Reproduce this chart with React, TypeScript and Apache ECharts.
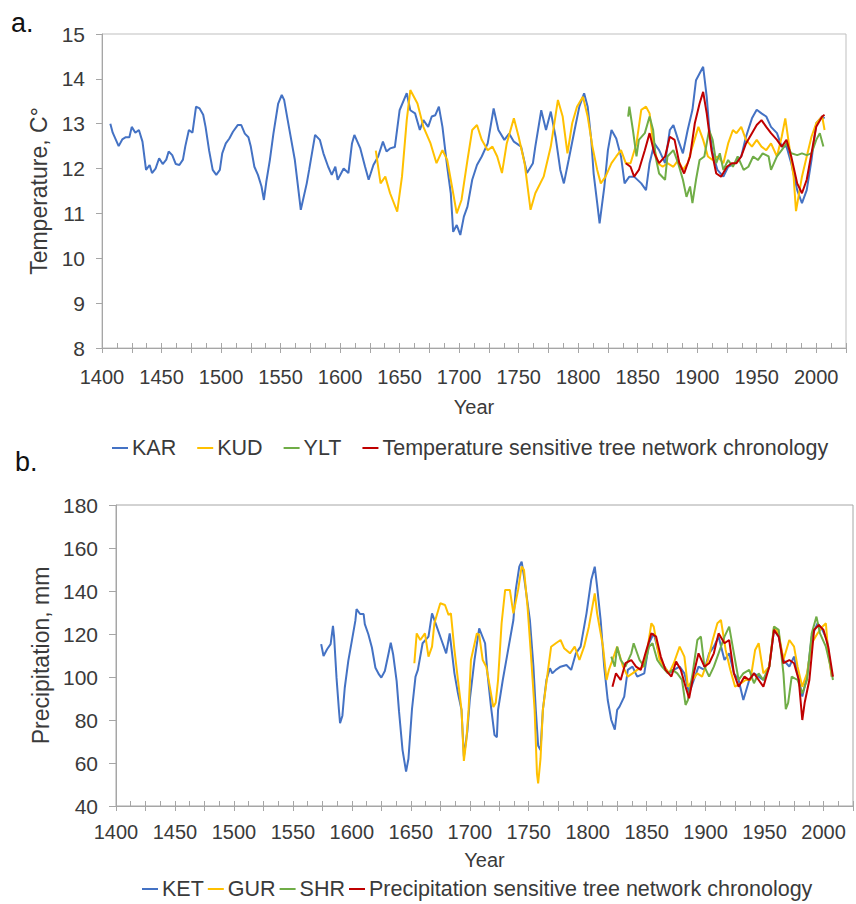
import React, { useEffect, useRef } from "react";
import * as echarts from "echarts";

// ---------- Panel a: temperature reconstructions ----------
const karYears = [1407,1409,1414,1417,1420,1423,1425,1428,1431,1434,1437,1440,1442,1445,1448,1451,1454,1456,1459,1462,1465,1468,1470,1473,1476,1479,1482,1485,1487,1490,1493,1496,1499,1501,1504,1507,1510,1514,1517,1520,1523,1525,1528,1531,1534,1536,1538,1541,1544,1548,1551,1553,1556,1562,1567,1572,1574,1579,1583,1586,1590,1593,1596,1598,1603,1607,1610,1612,1617,1621,1624,1628,1632,1636,1639,1642,1646,1650,1656,1659,1663,1667,1670,1674,1677,1680,1683,1686,1690,1693,1695,1698,1701,1704,1707,1711,1715,1719,1724,1729,1733,1738,1742,1746,1752,1757,1762,1764,1769,1773,1777,1781,1785,1788,1792,1797,1801,1805,1808,1811,1813,1816,1818,1822,1825,1828,1832,1836,1839,1843,1847,1853,1857,1860,1864,1868,1873,1877,1880,1884,1888,1892,1896,1899,1902,1905,1908,1910,1913,1917,1922,1926,1932,1937,1941,1946,1950,1954,1958,1962,1967,1971,1975,1979,1984,1988,1992,1996,2000,2005,2007];
const karValues = [13.0,12.8,12.5,12.65,12.7,12.7,12.93,12.8,12.86,12.6,11.97,12.08,11.9,12.0,12.23,12.1,12.2,12.38,12.3,12.1,12.08,12.2,12.5,12.86,12.8,13.38,13.34,13.2,12.93,12.4,11.97,11.86,11.97,12.34,12.56,12.67,12.82,12.97,12.97,12.78,12.7,12.49,12.04,11.86,11.6,11.3,11.7,12.19,12.78,13.45,13.64,13.53,13.08,12.19,11.08,11.67,11.97,12.75,12.64,12.34,12.04,11.86,12.04,11.75,12.0,11.9,12.56,12.75,12.45,12.04,11.75,12.08,12.27,12.6,12.38,12.45,12.48,13.3,13.68,13.3,13.23,12.86,13.08,12.93,13.16,13.19,13.38,12.93,12.04,11.45,10.59,10.74,10.52,10.93,11.15,11.75,12.08,12.27,12.56,13.34,12.86,12.64,12.78,12.6,12.49,11.9,12.12,12.49,13.3,12.86,13.27,12.71,11.97,11.67,12.19,12.86,13.38,13.68,13.38,12.64,11.89,11.23,10.78,11.6,12.41,12.86,12.67,12.27,11.67,11.82,11.82,11.67,11.52,12.12,12.56,12.41,12.12,12.86,12.97,12.64,12.34,12.86,13.31,13.97,14.12,14.27,13.6,12.93,12.34,11.97,11.82,12.04,12.12,12.27,12.71,13.12,13.31,13.23,13.16,12.93,12.79,12.49,12.49,12.12,11.52,11.23,11.52,12.19,13.01,13.16,13.12];

const kudYears = [1630,1634,1638,1642,1648,1652,1656,1659,1665,1670,1676,1681,1686,1690,1694,1698,1702,1707,1711,1715,1719,1724,1728,1732,1736,1740,1746,1750,1755,1760,1764,1771,1777,1783,1787,1791,1795,1799,1804,1808,1812,1816,1819,1823,1828,1832,1836,1840,1844,1849,1853,1857,1860,1863,1867,1871,1875,1880,1884,1888,1892,1896,1901,1905,1909,1913,1917,1922,1926,1930,1933,1937,1941,1946,1950,1954,1958,1962,1967,1971,1974,1977,1981,1983,1988,1992,1996,2000,2005,2007];
const kudValues = [12.4,11.67,11.82,11.45,11.04,11.82,13.08,13.75,13.45,12.93,12.56,12.12,12.41,12.19,11.6,11.0,11.3,12.19,12.86,12.97,12.64,12.41,12.49,12.27,11.9,12.56,13.12,12.71,12.12,11.08,11.45,11.82,12.49,13.53,13.16,12.34,13.01,13.38,13.6,13.16,12.49,11.97,11.67,11.82,12.12,12.27,12.41,12.12,12.12,12.56,13.31,13.38,13.23,12.56,12.12,12.04,12.12,12.04,12.19,11.97,12.12,12.49,12.93,12.64,12.27,12.19,12.27,12.12,12.56,12.86,12.79,12.93,12.64,12.49,12.64,12.49,12.41,12.56,12.27,12.71,13.12,12.56,11.82,11.05,11.82,12.27,12.71,13.01,13.16,12.86];

const yltYears = [1842,1843,1846,1849,1851,1856,1860,1863,1865,1868,1873,1875,1880,1884,1888,1891,1894,1896,1899,1902,1906,1910,1913,1916,1919,1922,1926,1930,1934,1939,1943,1947,1951,1955,1960,1962,1967,1971,1975,1979,1984,1988,1992,1996,2000,2003,2006];
const yltValues = [13.16,13.38,12.86,12.27,12.64,12.79,13.16,12.86,12.27,11.89,11.75,12.27,12.41,12.12,11.75,11.37,11.6,11.23,11.75,12.19,12.27,12.86,12.64,12.12,12.34,11.97,12.19,12.04,12.27,11.97,12.04,12.27,12.19,12.34,12.27,11.97,12.27,12.41,12.56,12.34,12.3,12.34,12.3,12.34,12.64,12.79,12.49];

const tempNetYears = [1840,1844,1847,1851,1856,1860,1864,1868,1873,1877,1881,1885,1889,1894,1898,1902,1905,1908,1912,1916,1920,1925,1929,1933,1937,1941,1946,1950,1954,1958,1962,1967,1971,1975,1979,1984,1988,1992,1996,2000,2005,2007];
const tempNetValues = [12.12,12.04,11.82,11.97,12.41,12.79,12.34,12.12,12.27,12.71,12.64,12.12,11.89,12.27,13.01,13.45,13.71,13.23,12.41,11.89,11.82,12.04,12.12,12.12,12.27,12.56,12.79,12.97,13.08,12.93,12.79,12.64,12.49,12.64,12.27,11.67,11.45,11.75,12.34,12.93,13.16,13.2];

// ---------- Panel b: precipitation reconstructions ----------
const ketYears = [1574,1576,1579,1582,1584,1585,1587,1589,1590,1592,1594,1597,1600,1603,1604,1607,1610,1611,1614,1617,1620,1623,1625,1628,1631,1633,1635,1638,1640,1643,1646,1648,1651,1654,1656,1660,1665,1668,1672,1676,1680,1683,1687,1690,1693,1695,1698,1700,1704,1708,1713,1715,1718,1721,1723,1724,1728,1732,1737,1739,1742,1744,1746,1751,1754,1756,1758,1760,1762,1765,1768,1770,1773,1777,1782,1786,1790,1794,1799,1803,1806,1808,1811,1814,1817,1820,1823,1825,1827,1831,1834,1838,1842,1848,1852,1856,1861,1865,1869,1873,1878,1882,1886,1890,1894,1899,1903,1907,1911,1916,1920,1924,1928,1932,1937,1941,1945,1949,1954,1958,1962,1966,1971,1975,1978,1982,1986,1990,1995,1999,2003,2007];
const ketValues = [115.3,109.8,112.9,115.3,123.8,118.4,99.7,85,78.5,82,95.0,107.5,116.8,126.2,131.6,129.3,129.3,124.6,119.9,113.7,104.3,101.2,99.7,102.8,110.6,116.0,110.6,98.1,84.1,66,56,62,85,100.2,103.3,115.7,118.8,129.6,123.4,117.2,111.0,120.3,101.7,92.4,84.7,63,75,89.3,107.9,122.6,115.7,101.7,86.2,73,72,84.7,98.6,111.0,126.5,140.5,151.3,153.7,146.7,126.5,104.8,84.7,68,66,84.7,98.6,104.1,101.7,103.3,104.8,105.6,103.3,111.0,114.1,129.6,145.1,151.3,142.0,126.5,104.8,89.3,80,75.5,84.7,86.2,90.9,103.3,104.8,100.2,101.7,115.7,120.3,109.5,104.8,101.7,103.3,104.8,101.7,92.4,98.6,104.8,103.3,111.0,114.1,118.8,107.9,111.0,101.7,98.6,89.3,98.6,101.7,100.2,98.6,104.8,121.9,118.8,107.9,104.8,109.5,101.7,90.9,100.2,118.8,125.0,121.9,117.2,100.2];

const gurYears = [1653,1655,1658,1662,1665,1668,1670,1675,1679,1682,1684,1687,1690,1693,1695,1697,1699,1701,1706,1708,1711,1714,1717,1720,1722,1724,1727,1730,1734,1737,1741,1744,1746,1749,1752,1755,1757,1758,1760,1762,1766,1769,1773,1777,1780,1785,1789,1793,1797,1801,1806,1808,1813,1816,1818,1821,1825,1830,1834,1838,1842,1847,1851,1854,1856,1861,1865,1869,1873,1878,1882,1885,1889,1893,1897,1902,1906,1910,1913,1917,1921,1925,1930,1934,1938,1942,1945,1949,1954,1958,1962,1966,1971,1975,1978,1982,1986,1990,1995,1999,2002,2004,2007];
const gurValues = [106.4,120.3,117.2,120.3,109.5,114.1,125.0,134.3,133.5,128.9,129.6,112.6,98.6,84.7,61,70,84.7,107.9,120.3,119.6,107.9,104.8,95.5,86,88,98.6,125.0,140.5,140.5,129.6,140.5,151.3,149.8,132.7,109.5,84.7,55,50.5,62,84.7,101.7,114.1,115.7,117.2,113.4,111.0,114.1,107.9,114.1,123.4,138.9,129.6,114.1,98.6,103.3,107.9,114.1,104.8,100.2,101.7,103.3,104.8,114.1,125.0,123.4,107.9,104.8,101.7,106.4,114.1,109.5,95.5,98.6,101.7,100.2,107.9,117.2,125.0,126.5,112.6,103.3,95.5,97.1,98.6,98.6,112.6,115.7,101.7,104.8,123.4,120.3,107.9,117.2,114.1,104.8,95.5,101.7,115.7,120.3,123.4,125.0,111.0,100.2];

const shrYears = [1820,1823,1825,1828,1832,1837,1839,1844,1848,1852,1855,1859,1863,1868,1872,1876,1880,1883,1885,1889,1893,1896,1899,1903,1907,1911,1916,1920,1924,1928,1932,1937,1941,1945,1949,1954,1958,1962,1966,1968,1970,1973,1978,1982,1986,1990,1994,1997,2002,2006,2008];
const shrValues = [109.5,104.8,114.1,107.9,104.8,111.0,115.7,107.9,104.8,114.1,115.7,107.9,104.8,101.7,103.3,101.7,98.6,87,89.3,101.7,117.2,118.8,104.8,100.2,104.8,111.0,118.8,123.4,111.0,98.6,101.7,103.3,97.1,101.7,98.6,104.8,123.4,121.9,101.7,85,88,100.2,98.6,92.4,98.6,120.3,128.1,120.3,114.1,104.8,98.6];

const precNetYears = [1821,1824,1828,1832,1837,1841,1845,1849,1854,1858,1862,1866,1871,1875,1879,1883,1886,1890,1894,1899,1903,1907,1911,1916,1920,1924,1928,1933,1937,1941,1945,1949,1954,1958,1962,1966,1971,1975,1979,1982,1984,1988,1992,1996,2000,2004,2008];
const precNetValues = [95.5,101.7,98.6,106.4,107.9,104.8,103.3,111.0,120.3,118.8,109.5,103.3,100.2,107.2,103.3,95.5,90.1,101.7,111.0,104.8,106.4,111.0,120.3,115.7,117.2,101.7,95.5,100.2,98.6,101.7,98.6,95.5,104.8,121.9,118.8,106.4,107.9,106.4,98.6,80,88,98.6,121.9,124.2,121.9,114.1,100.2];

const tempNames = ["KAR", "KUD", "YLT", "Temperature sensitive tree network chronology"];
const precNames = ["KET", "GUR", "SHR", "Precipitation sensitive tree network chronology"];
const seriesColors = ["#4472C4", "#FFC000", "#70AD47", "#C00000"];

const FONT = "'Liberation Sans', Arial, sans-serif";
const TEXT = "#3a3a3a";
const AXIS = "#A6A6A6";

const zip = (xs: number[], ys: number[]) => xs.map((x, i) => [x, ys[i]]);

function xAxesFor(gridIndex: number, nameGap: number, labelMargin: number) {
  return [
    {
      type: "value",
      gridIndex,
      position: "bottom",
      min: 1400,
      max: 2025,
      interval: 25,
      name: "Year",
      nameLocation: "middle",
      nameGap,
      nameTextStyle: { fontFamily: FONT, fontSize: 20, color: TEXT },
      axisLine: { show: true, onZero: false, lineStyle: { color: AXIS, width: 1 } },
      axisTick: { show: true, length: 5, lineStyle: { color: AXIS } },
      axisLabel: {
        fontFamily: FONT,
        fontSize: 20,
        color: TEXT,
        margin: labelMargin,
        formatter: (v: number) => (v % 50 === 0 && v <= 2000 ? String(v) : ""),
      },
      splitLine: { show: false },
    },
    {
      type: "value",
      gridIndex,
      position: "bottom",
      min: 1400,
      max: 2025,
      interval: 12.5,
      axisLine: { show: false, onZero: false },
      axisTick: { show: true, inside: true, length: 5, lineStyle: { color: AXIS } },
      axisLabel: { show: false },
      splitLine: { show: false },
    },
  ];
}

export default function App() {
  const ref = useRef<HTMLDivElement>(null);

  useEffect(() => {
    if (!ref.current) return;
    const chart = echarts.init(ref.current, null, { renderer: "svg" });

    const tempData = [
      zip(karYears, karValues),
      zip(kudYears, kudValues),
      zip(yltYears, yltValues),
      zip(tempNetYears, tempNetValues),
    ];
    const precData = [
      zip(ketYears, ketValues),
      zip(gurYears, gurValues),
      zip(shrYears, shrValues),
      zip(precNetYears, precNetValues),
    ];

    const mk = (name: string, data: number[][], i: number, xi: number, yi: number) => ({
      name,
      type: "line",
      xAxisIndex: xi,
      yAxisIndex: yi,
      data,
      showSymbol: false,
      symbol: "none",
      smooth: false,
      lineStyle: { color: seriesColors[i], width: 2 },
      itemStyle: { color: seriesColors[i] },
    });

    const legendCommon = {
      orient: "horizontal",
      icon: "rect",
      itemWidth: 16,
      itemHeight: 2,
      padding: 0,
      textStyle: { fontFamily: FONT, fontSize: 21.5, lineHeight: 22, color: TEXT, padding: [0, 0, 0, -1] },
      selectedMode: false,
    };

    chart.setOption({
      animation: false,
      backgroundColor: "#ffffff",
      grid: [
        { left: 102, right: 10, top: 34, bottom: 556, show: true, borderColor: "#BFBFBF", borderWidth: 1, backgroundColor: "transparent" },
        { left: 116, right: 0, top: 505, bottom: 98, show: true, borderColor: "#A6A6A6", borderWidth: 1, backgroundColor: "transparent" },
      ],
      xAxis: [...xAxesFor(0, 49, 19), ...xAxesFor(1, 44, 16)],
      yAxis: [
        {
          type: "value",
          gridIndex: 0,
          min: 8,
          max: 15,
          interval: 1,
          name: "Temperature, C°",
          nameLocation: "middle",
          nameGap: 46,
          nameTextStyle: { fontFamily: FONT, fontSize: 23, color: TEXT },
          axisLine: { show: true, lineStyle: { color: AXIS } },
          axisTick: { show: true, length: 6, lineStyle: { color: AXIS } },
          axisLabel: { fontFamily: FONT, fontSize: 21, color: TEXT, margin: 17 },
          splitLine: { show: false },
        },
        {
          type: "value",
          gridIndex: 1,
          min: 40,
          max: 180,
          interval: 20,
          name: "Precipitation, mm",
          nameLocation: "middle",
          nameGap: 58,
          nameTextStyle: { fontFamily: FONT, fontSize: 23, color: TEXT },
          axisLine: { show: true, lineStyle: { color: AXIS } },
          axisTick: { show: true, length: 7, lineStyle: { color: AXIS } },
          axisLabel: { fontFamily: FONT, fontSize: 21, color: TEXT, margin: 18 },
          splitLine: { show: false },
        },
      ],
      legend: [
        { ...legendCommon, left: 112, top: 437, itemGap: 21, data: tempNames },
        { ...legendCommon, left: 142, top: 878, itemGap: 4, data: precNames },
      ],
      graphic: [
        { type: "text", left: 11, top: 9, style: { text: "a.", font: `27px ${FONT}`, fill: "#111" } },
        { type: "text", left: 15, top: 448, style: { text: "b.", font: `27px ${FONT}`, fill: "#111" } },
      ],
      series: [
        ...tempNames.map((n, i) => mk(n, tempData[i], i, 0, 0)),
        ...precNames.map((n, i) => mk(n, precData[i], i, 2, 1)),
      ],
    });

    return () => chart.dispose();
  }, []);

  return (
    <div
      ref={ref}
      style={{ position: "absolute", left: 0, top: 0, width: 856, height: 904 }}
    />
  );
}
